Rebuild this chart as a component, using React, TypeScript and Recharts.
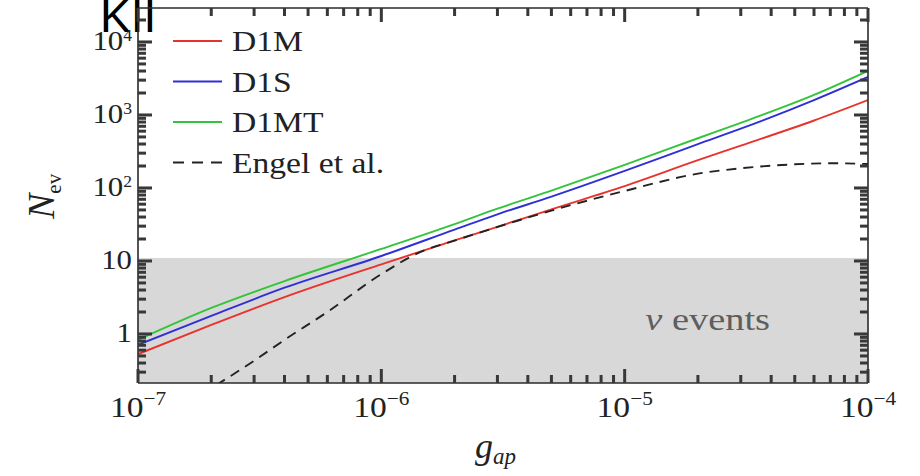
import React from 'react';
import { LineChart, Line, XAxis, YAxis, ReferenceArea, Legend, Customized } from 'recharts';

// Coupling values g_ap shared by the three model curves
const gGrid = [1e-7, 2e-7, 4e-7, 1e-6, 2e-6, 3e-6, 5e-6, 1e-5, 2e-5, 3e-5, 6e-5, 1e-4];
// Expected number of events for each model
const nD1M = [0.53, 1.33, 3.2, 9.0, 19.1, 29.4, 51, 106, 240, 380, 840, 1600];
const nD1S = [0.71, 1.77, 4.3, 11.7, 26.9, 43.6, 76, 171, 400, 650, 1600, 3320];
const nD1MT = [0.83, 2.27, 5.3, 14.6, 32, 52, 92, 207, 480, 780, 1880, 4010];
// Engel et al. curve, sampled on its own grid
const gEngel = [2.1e-7, 3e-7, 4e-7, 6e-7, 1e-6, 1.45e-6, 2e-6, 3e-6, 5e-6, 1e-5, 2e-5, 3e-5, 5e-5, 7e-5, 1e-4];
const nEngel = [0.2, 0.43, 0.83, 2.0, 6.6, 13.3, 19, 29.2, 49, 91, 157, 186, 211, 218, 213];

const seriesNames = ['D1M', 'D1S', 'D1MT', 'Engel et al.'];
const seriesColors = ['#e8332c', '#2f2fd8', '#33c43a', '#222222'];

// Axis ticks
const xMajorExps = [-7, -6, -5, -4];
const yMajorLabels = [
  { value: 1, base: '1', exp: '' },
  { value: 10, base: '10', exp: '' },
  { value: 100, base: '10', exp: '2' },
  { value: 1000, base: '10', exp: '3' },
  { value: 10000, base: '10', exp: '4' },
];
const minorSteps = [2, 3, 4, 5, 6, 7, 8, 9];
const yDecades = [0.1, 1, 10, 100, 1000, 10000];

const xDomain = [1e-7, 1e-4];
const yDomain = [0.213, 29200];
const kiiEvents = 11;

const rows = gGrid.map((g, i) => ({ g, d1m: nD1M[i], d1s: nD1S[i], d1mt: nD1MT[i] }));
const engelRows = gEngel.map((g, i) => ({ g, engel: nEngel[i] }));

const xMajor = xMajorExps.map((e) => Math.pow(10, e));
const xTicks = [...xMajor, ...xMajor.slice(0, -1).flatMap((m) => minorSteps.map((s) => s * m))];
const yTicks = [
  ...yMajorLabels.map((l) => l.value),
  ...yDecades.flatMap((d) => minorSteps.map((s) => s * d)),
].filter((v) => v >= yDomain[0] && v <= yDomain[1]);

const AXIS = '#2a2a2a';
const TICK = '#383838';
const SERIF = '"Liberation Serif", "DejaVu Serif", serif';
const SANS = '"Liberation Sans", Arial, sans-serif';
const TICK_W = 3;
const MAJOR_LEN = 14;
const MINOR_LEN = 8;

const isDecade = (v: number) => {
  const l = Math.log10(v);
  return Math.abs(l - Math.round(l)) < 1e-6;
};

// Inward tick marks on the horizontal frame edges, with 10^n labels along the bottom
function XTick(props: any) {
  const { payload, side } = props;
  const px = Number(props.x);
  const py = Number(props.y);
  const v = payload.value;
  const major = isDecade(v);
  const exp = Math.round(Math.log10(v));
  const len = major ? MAJOR_LEN : MINOR_LEN;
  const inward = side === 'bottom' ? -1 : 1;
  return (
    <g>
      <rect x={px - TICK_W / 2} y={inward < 0 ? py - len : py} width={TICK_W} height={len} fill={TICK} />
      {side === 'bottom' && major && (
        <text
          transform={`translate(${px},${py + 34}) scale(1.12,1)`}
          textAnchor="middle"
          fontFamily={SERIF}
          fontSize={30}
          fill="#222"
        >
          10
          <tspan dy={-12} fontSize={19}>
            {'\u2212' + Math.abs(exp)}
          </tspan>
        </text>
      )}
    </g>
  );
}

// Inward tick marks on the vertical frame edges, with labels on the left
function YTick(props: any) {
  const { payload, side } = props;
  const px = Number(props.x);
  const py = Number(props.y);
  const v = payload.value;
  const label = yMajorLabels.find((l) => Math.abs(l.value - v) < 1e-9 * v);
  const len = label ? MAJOR_LEN : MINOR_LEN;
  const inward = side === 'left' ? 1 : -1;
  return (
    <g>
      <rect x={inward > 0 ? px : px - len} y={py - TICK_W / 2} width={len} height={TICK_W} fill={TICK} />
      {side === 'left' && label && (
        <text
          transform={`translate(${px - 6},${py + 8}) scale(1.1,1)`}
          textAnchor="end"
          fontFamily={SERIF}
          fontSize={28}
          fill="#222"
        >
          {label.base}
          {label.exp && (
            <tspan dy={-9} fontSize={16}>
              {label.exp}
            </tspan>
          )}
        </text>
      )}
    </g>
  );
}

function LegendBox(props: any) {
  const items = [...(props.payload ?? [])].sort(
    (a: any, b: any) => seriesNames.indexOf(a.value) - seriesNames.indexOf(b.value)
  );
  return (
    <svg width={240} height={170} style={{ overflow: 'visible' }}>
      {items.map((it: any, i: number) => {
        const y = 23 + i * 40.5;
        const dashed = it.value === 'Engel et al.';
        return (
          <g key={it.value}>
            <line
              x1={8}
              x2={57}
              y1={y}
              y2={y}
              stroke={it.color}
              strokeWidth={2}
              strokeDasharray={dashed ? '11 8' : undefined}
            />
            <text
              transform={`translate(67,${y + 10}) scale(1.12,1)`}
              fontFamily={SERIF}
              fontSize={30}
              fill="#222"
            >
              {it.value}
            </text>
          </g>
        );
      })}
    </svg>
  );
}

function NuEventsLabel(props: any) {
  const vb = props.viewBox || { x: 0, y: 0, width: 0, height: 0 };
  const tx = vb.x + vb.width * 0.695;
  const ty = vb.y + vb.height * 0.5 + 10;
  return (
    <text transform={`translate(${tx},${ty}) scale(1.2,1)`} fontFamily={SERIF} fontSize={32} fill="#5e5e5e">
      <tspan fontStyle="italic">ν</tspan> events
    </text>
  );
}

function Annotations() {
  return (
    <g>
      <text x={100} y={32} fontFamily={SANS} fontSize={46} fill="#000">
        KII
      </text>
      <text transform="translate(54,219) rotate(-90)" fontFamily={SERIF} fill="#222">
        <tspan fontStyle="italic" fontSize={38}>
          N
        </tspan>
        <tspan fontSize={21} dy={7}>
          ev
        </tspan>
      </text>
      <text x={475} y={458} fontFamily={SERIF} fill="#222">
        <tspan fontStyle="italic" fontSize={36}>
          g
        </tspan>
        <tspan fontStyle="italic" fontSize={23} dy={6}>
          ap
        </tspan>
      </text>
    </g>
  );
}

export default function App() {
  const axisLine = { stroke: AXIS, strokeWidth: 1.6 };
  const common = {
    type: 'number' as const,
    scale: 'log' as const,
    allowDataOverflow: true,
    interval: 0 as const,
    tickSize: 0,
    tickMargin: 0,
    tickLine: false,
    axisLine,
  };
  return (
    <div style={{ position: 'absolute', left: 0, top: 0, background: '#fff' }}>
      <LineChart width={920} height={476} data={rows} margin={{ top: 0, right: 42, bottom: 43, left: 78 }}>
        <ReferenceArea
          xAxisId="b"
          yAxisId="l"
          x1={xDomain[0]}
          x2={xDomain[1]}
          y1={yDomain[0]}
          y2={kiiEvents}
          fill="#d8d8d8"
          fillOpacity={1}
          stroke="none"
          label={<NuEventsLabel />}
        />
        <XAxis
          {...common}
          xAxisId="b"
          orientation="bottom"
          dataKey="g"
          domain={xDomain}
          ticks={xTicks}
          height={50}
          tick={(p: any) => <XTick {...p} side="bottom" />}
        />
        <XAxis
          {...common}
          xAxisId="t"
          orientation="top"
          dataKey="g"
          domain={xDomain}
          ticks={xTicks}
          height={8}
          tick={(p: any) => <XTick {...p} side="top" />}
        />
        <YAxis
          {...common}
          yAxisId="l"
          orientation="left"
          domain={yDomain}
          ticks={yTicks}
          width={60}
          tick={(p: any) => <YTick {...p} side="left" />}
        />
        <YAxis
          {...common}
          yAxisId="r"
          orientation="right"
          domain={yDomain}
          ticks={yTicks}
          width={10}
          tick={(p: any) => <YTick {...p} side="right" />}
        />
        <Line
          xAxisId="b"
          yAxisId="l"
          type="monotone"
          dataKey="d1m"
          name={seriesNames[0]}
          stroke={seriesColors[0]}
          strokeWidth={1.9}
          dot={false}
          isAnimationActive={false}
        />
        <Line
          xAxisId="b"
          yAxisId="l"
          type="monotone"
          dataKey="d1s"
          name={seriesNames[1]}
          stroke={seriesColors[1]}
          strokeWidth={1.9}
          dot={false}
          isAnimationActive={false}
        />
        <Line
          xAxisId="b"
          yAxisId="l"
          type="monotone"
          dataKey="d1mt"
          name={seriesNames[2]}
          stroke={seriesColors[2]}
          strokeWidth={1.9}
          dot={false}
          isAnimationActive={false}
        />
        <Line
          xAxisId="b"
          yAxisId="l"
          type="monotone"
          data={engelRows}
          dataKey="engel"
          name={seriesNames[3]}
          stroke={seriesColors[3]}
          strokeWidth={1.9}
          strokeDasharray="10 7"
          dot={false}
          isAnimationActive={false}
        />
        <Legend
          layout="vertical"
          verticalAlign="middle"
          align="center"
          wrapperStyle={{ left: 165, top: 18, width: 240, height: 170 }}
          content={LegendBox}
        />
        <Customized component={Annotations} />
      </LineChart>
    </div>
  );
}
